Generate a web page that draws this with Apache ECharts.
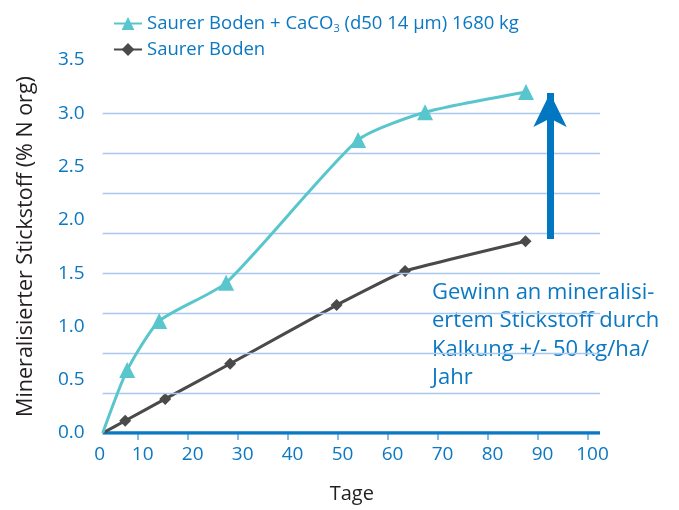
<!DOCTYPE html>
<html><head><meta charset="utf-8">
<script src="https://cdn.jsdelivr.net/npm/echarts@6/dist/echarts.min.js"></script>
<style>html,body{margin:0;padding:0;background:#fff}#c{width:679px;height:510px}</style>
</head><body><div id="c"></div>
<script>
// ---- data ----
const cyanName = 'Saurer Boden + CaCO{sub|3} (d50 14 µm) 1680 kg';
const blackName = 'Saurer Boden';
const cyanDays   = [3, 7.9, 14.3, 27.7, 54.1, 67.5, 87.7];
const cyanValues = [0, 0.59, 1.05, 1.41, 2.75, 3.01, 3.20];
const blackDays   = [3, 7.5, 15.5, 28.5, 49.8, 63.5, 87.6];
const blackValues = [0, 0.115, 0.32, 0.65, 1.20, 1.52, 1.80];
const xTickLabels = [0, 10, 20, 30, 40, 50, 60, 70, 80, 90, 100];
const xTickMarks = [10, 20, 30, 40, 50, 60, 70, 80, 90, 100];
const gridValues = [0.375, 0.75, 1.125, 1.5, 1.875, 2.25, 2.625, 3.0];
const axisStart = 3, axisEnd = 102.5;
const arrowDay = 92.5, arrowFrom = 1.82, arrowTo = 3.19;
const noteText = 'Gewinn an mineralisi-\nertem Stickstoff durch\nKalkung +/- 50 kg/ha/\nJahr';

const BLUE = '#0a78c2', CYAN = '#58c6cc', DARK = '#4a4a4c', GRID = '#a9c9ee', TXT = '#231f20';
const FONT = 'Open Sans';

function pts(xs, ys) {
  return xs.map((x, i) => i === 0 ? { value: [x, ys[i]], symbol: 'none' } : [x, ys[i]]);
}

const chart = echarts.init(document.getElementById('c'), null, { renderer: 'canvas' });
chart.setOption({
  animation: false,
  textStyle: { fontFamily: FONT },
  grid: { left: 87.7, right: 79, top: 60, bottom: 77, containLabel: false },
  legend: {
    orient: 'vertical', left: 108, top: 9, itemGap: 6, itemWidth: 28, itemHeight: 16,
    data: [cyanName, blackName],
    textStyle: { color: BLUE, fontSize: 18.5, fontFamily: FONT,
      rich: { sub: { fontSize: 11, verticalAlign: 'bottom', padding: [10, 0, 0, 0], color: BLUE, fontFamily: FONT } } }
  },
  xAxis: {
    type: 'value', min: 0, max: axisEnd,
    name: 'Tage', nameLocation: 'middle', nameGap: 51,
    nameTextStyle: { color: TXT, fontSize: 20, fontFamily: FONT, padding: [0, 0, 0, 16] },
    axisLine: { show: false },
    axisTick: { show: true, customValues: xTickMarks, length: 7, inside: false, lineStyle: { color: '#6aaee0', width: 1.6 } },
    axisLabel: { customValues: xTickLabels, color: BLUE, fontSize: 19, margin: 12,
      formatter: v => v === 0 ? '{z|0}' : '{a|' + v + '}',
      rich: { a: { padding: [0, 0, 0, 10], fontSize: 19, color: BLUE }, z: { padding: [0, 0, 0, 24], fontSize: 19, color: BLUE } } },
    splitLine: { show: false }
  },
  yAxis: {
    type: 'value', min: 0, max: 3.5, interval: 0.5,
    name: 'Mineralisierter Stickstoff (% N org)', nameLocation: 'middle', nameGap: 51, nameRotate: 90,
    nameTextStyle: { color: TXT, fontSize: 21.5, fontFamily: FONT },
    axisLine: { show: false }, axisTick: { show: false },
    axisLabel: { color: BLUE, fontSize: 19, margin: 3, formatter: v => v.toFixed(1) },
    splitLine: { show: false }
  },
  series: [
    {
      name: 'gridlines', type: 'line', data: [], silent: true, color: GRID,
      markLine: {
        silent: true, symbol: ['none', 'none'], label: { show: false },
        lineStyle: { color: GRID, width: 1.4, type: 'solid', opacity: 1 },
        emphasis: { disabled: true },
        data: gridValues.map(v => [{ coord: [axisStart, v], lineStyle: { color: GRID, width: 1.4, type: 'solid' } }, { coord: [axisEnd, v] }])
      }
    },
    {
      name: 'axis', type: 'line', data: [[axisStart, 0], [axisEnd, 0]], symbol: 'none', silent: true, z: 3,
      lineStyle: { color: BLUE, width: 3.5 }
    },
    {
      name: blackName, type: 'line', data: pts(blackDays, blackValues), smooth: 0.1,
      symbol: 'diamond', symbolSize: 12, z: 4,
      itemStyle: { color: DARK }, lineStyle: { color: DARK, width: 3 }
    },
    {
      name: cyanName, type: 'line', data: pts(cyanDays, cyanValues), smooth: 0.2,
      symbol: 'triangle', symbolSize: 16, z: 5,
      itemStyle: { color: CYAN }, lineStyle: { color: CYAN, width: 3 }
    },
    {
      name: 'arrow', type: 'line', data: [], silent: true, color: '#0077c0',
      markLine: {
        silent: true, symbol: ['none', 'arrow'], symbolSize: [25, 34], label: { show: false },
        emphasis: { disabled: true },
        lineStyle: { color: '#0077c0', width: 7, type: 'solid' }, z: 6,
        data: [[{ coord: [arrowDay, arrowFrom] }, { coord: [arrowDay, arrowTo] }]]
      }
    }
  ],
  graphic: [{
    type: 'text', left: 432, top: 278,
    style: { text: noteText, fill: BLUE, font: '22px "' + FONT + '"', lineHeight: 28.5 }
  }]
});
</script></body></html>
